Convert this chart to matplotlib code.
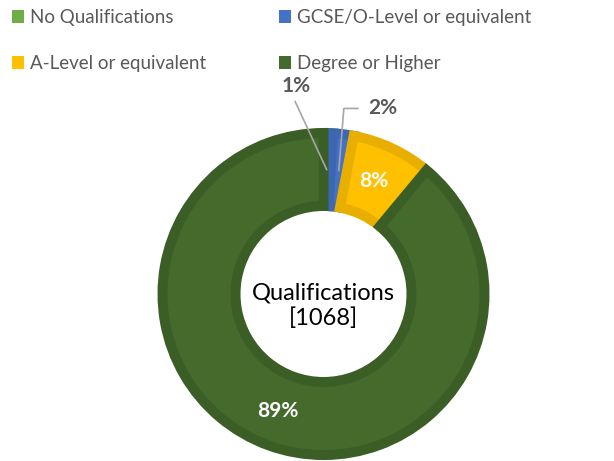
import numpy as np
import matplotlib.pyplot as plt
from matplotlib.patches import Patch

plt.rcParams['font.family'] = ['Lato', 'DejaVu Sans']

#- データ (1068人の内訳)
labels = ['No Qualifications', 'GCSE/O-Level or equivalent', 'A-Level or equivalent', 'Degree or Higher']
counts = [10, 22, 86, 950]
total = 1068
fills = ['#70AD47', '#4472C4', '#FFC000', '#456B2C']
edges = ['#63A03B', '#3D67B3', '#E8AE00', '#3B5E26']

W, H = 614, 461
cx, cy = 323.5, 167.0   # 中心 (pixel, 下から)
r_out = 161.0
ring = 73.0

fig = plt.figure(figsize=(W/100, H/100), dpi=100)
ax = fig.add_axes([0, 0, 1, 1])

wedges, _ = ax.pie(counts, colors=fills, startangle=90, counterclock=False,
                   center=(cx, cy), radius=r_out,
                   wedgeprops=dict(width=ring, linewidth=7.2))
for w, ec in zip(wedges, edges):
    w.set_edgecolor(ec)
    w.set_joinstyle('miter')

ax.set_xlim(0, W)
ax.set_ylim(0, H)
ax.set_aspect('equal')
ax.axis('off')

#- ラベル
r_mid = r_out - ring / 2
pct = [round(100 * c / total) for c in counts]
mids = [(w.theta1 + w.theta2) / 2 for w in wedges]
pts = [(cx + r_mid * np.cos(np.radians(a)), cy + r_mid * np.sin(np.radians(a))) for a in mids]

# 小さい扇形: 引き出し線つき
lc = '#A6A6A6'
x0, y0 = pts[0]
ax.plot([x0 - 0.5, x0 - 32], [y0 + 0, y0 + 68], color=lc, lw=1.2)
ax.text(x0 - 31, y0 + 84, f'{pct[0]}%', ha='center', va='center',
        fontsize=15, fontweight='bold', color='#595959')
x1, y1 = pts[1]
ax.plot([x1, x1 + 5, x1 + 19], [y1, y1 + 62, y1 + 62], color=lc, lw=1.2)
ax.text(x1 + 44, y1 + 62, f'{pct[1]}%', ha='center', va='center',
        fontsize=15, fontweight='bold', color='#595959')

for i in (2, 3):
    ax.text(pts[i][0] - 3, pts[i][1], f'{pct[i]}%', ha='center', va='center',
            fontsize=15, fontweight='bold', color='white')

ax.text(cx, cy - 12, f'Qualifications\n[{total}]', ha='center', va='center',
        fontsize=17, color='black', linespacing=1.2)

#- 凡例 (列順: 左列 No/A-Level, 右列 GCSE/Degree)
order = [0, 2, 1, 3]
handles = [Patch(facecolor=fills[i], edgecolor='none', label=labels[i]) for i in order]
fig.legend(handles=handles, ncol=2, frameon=False, fontsize=13.5,
           loc='upper left', bbox_to_anchor=(12/W, 1 - 9/H),
           handlelength=0.65, handleheight=0.65, handletextpad=0.3,
           labelspacing=1.55, columnspacing=3.9, borderpad=0, borderaxespad=0,
           labelcolor='#595959')

plt.savefig('out.png', dpi=100)
